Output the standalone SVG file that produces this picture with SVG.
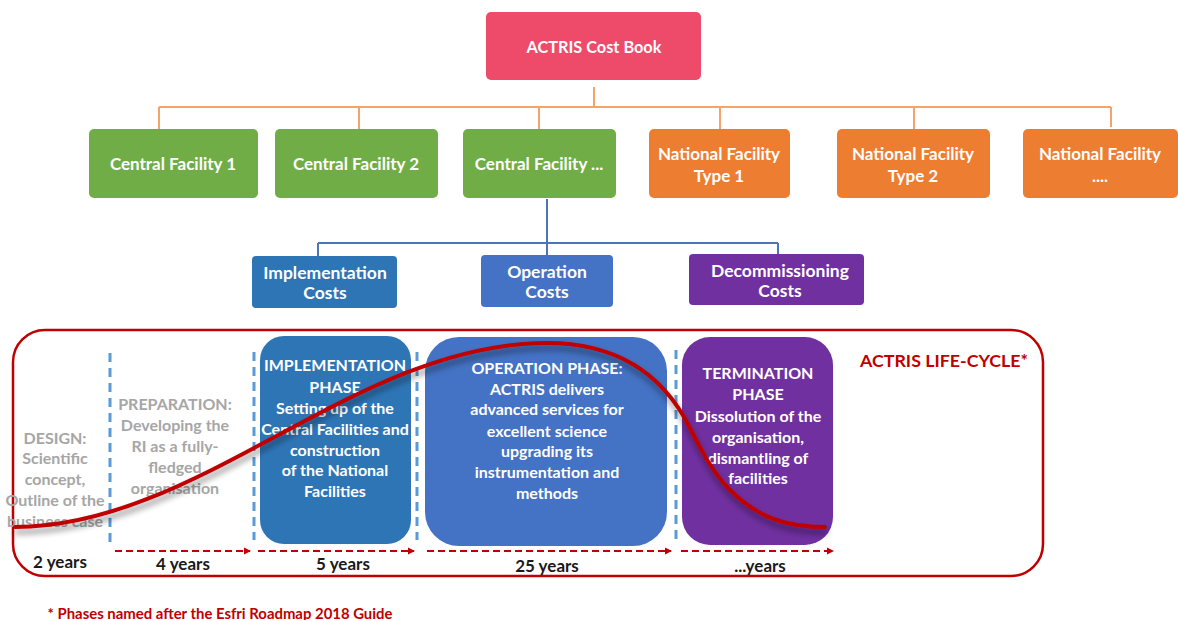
<svg xmlns="http://www.w3.org/2000/svg" width="1178" height="620" viewBox="0 0 1178 620">
<style>
text{font-family:Lato,"Open Sans","Liberation Sans",sans-serif;font-weight:bold;text-anchor:middle;dominant-baseline:central}
.w{fill:#fff;font-size:17px}
.c{fill:#fff;font-size:17.5px}
.p{fill:#fff;font-size:16px}
.g{fill:#a6a6a6;font-size:16px}
.y{fill:#1a1a1a;font-size:17px}
.orange{stroke:#f4a36b;stroke-width:2;fill:none}
.blue{stroke:#4f74b3;stroke-width:2;fill:none}
.vd{stroke:#5b9bd5;stroke-width:3;stroke-dasharray:9 6;fill:none}
.rd{stroke:#c00000;stroke-width:2.2;stroke-dasharray:7 4;fill:none;marker-end:url(#ah)}
</style>
<defs>
<marker id="ah" markerWidth="8" markerHeight="8" refX="6" refY="4" orient="auto" markerUnits="userSpaceOnUse">
<path d="M0,0.5 L7,4 L0,7.5 Z" fill="#c00000"/>
</marker>
<filter id="sh" x="-10%" y="-20%" width="120%" height="160%">
<feGaussianBlur in="SourceAlpha" stdDeviation="3"/>
<feOffset dx="1" dy="5" result="b"/>
<feComponentTransfer><feFuncA type="linear" slope="0.45"/></feComponentTransfer>
<feMerge><feMergeNode/><feMergeNode in="SourceGraphic"/></feMerge>
</filter>
</defs>
<rect width="1178" height="620" fill="#fff"/>
<g id="connectors">
<path class="orange" d="M594,87 V107 M159,107 H1111 M159,107 V129 M359,107 V129 M539,107 V129 M720,107 V129 M914,107 V129 M1111,107 V127"/>
<path class="blue" d="M547,199 V255 M318,243 H778 M318,243 V256 M778,243 V254"/>
</g>
<g id="costbook"><rect x="486" y="12" width="215" height="68" rx="5" fill="#ee4b6a"/><text class="w" x="594" y="46" style="font-size:16.3px">ACTRIS Cost Book</text></g>
<g id="cf1"><rect x="89" y="129" width="169" height="69" rx="5" fill="#70ad47"/><text class="w" x="173" y="163">Central Facility 1</text></g>
<g id="cf2"><rect x="275" y="129" width="163" height="69" rx="5" fill="#70ad47"/><text class="w" x="356" y="163">Central Facility 2</text></g>
<g id="cf3"><rect x="463" y="129" width="153" height="69" rx="5" fill="#70ad47"/><text class="w" x="539" y="163">Central Facility ...</text></g>
<g id="nf1"><rect x="649" y="129" width="141" height="69" rx="5" fill="#ed7d31"/><text class="w" x="719" y="153">National Facility</text><text class="w" x="719" y="175">Type 1</text></g>
<g id="nf2"><rect x="837" y="129" width="153" height="69" rx="5" fill="#ed7d31"/><text class="w" x="913" y="153">National Facility</text><text class="w" x="913" y="175">Type 2</text></g>
<g id="nf3"><rect x="1023" y="129" width="155" height="69" rx="5" fill="#ed7d31"/><text class="w" x="1100" y="153">National Facility</text><text class="w" x="1100" y="175">....</text></g>
<g id="impcost"><rect x="252" y="256" width="145" height="52" rx="4" fill="#2e75b6"/><text class="c" x="325" y="272">Implementation</text><text class="c" x="325" y="292">Costs</text></g>
<g id="opcost"><rect x="481" y="255" width="132" height="52" rx="4" fill="#4472c4"/><text class="c" x="547" y="271">Operation</text><text class="c" x="547" y="291">Costs</text></g>
<g id="deccost"><rect x="689" y="254" width="175" height="51" rx="4" fill="#7030a0"/><text class="c" x="780" y="270">Decommissioning</text><text class="c" x="780" y="290">Costs</text></g>
<g id="lifecycle">
<rect x="13" y="330" width="1030" height="246" rx="32" fill="none" stroke="#c00000" stroke-width="2.5"/>
<text x="944" y="360" style="fill:#c00000;font-size:17.8px">ACTRIS LIFE-CYCLE*</text>
</g>
<g id="phase-lines">
<path class="vd" d="M110,353 V543 M254,352 V540 M417,352 V540 M676,350 V540"/>
</g>
<g id="design"><text class="g" x="55" y="437">DESIGN:</text><text class="g" x="55" y="457">Scientific</text><text class="g" x="55" y="478">concept,</text><text class="g" x="55" y="499">Outline of the</text><text class="g" x="55" y="520">business case</text></g>
<g id="preparation"><text class="g" x="175" y="403">PREPARATION:</text><text class="g" x="175" y="424">Developing the</text><text class="g" x="175" y="445">RI as a fully-</text><text class="g" x="175" y="466">fledged</text><text class="g" x="175" y="487">organisation</text></g>
<g id="implementation"><rect x="260" y="336" width="151" height="208" rx="24" fill="#2e75b6"/>
<text class="p" x="335" y="364">IMPLEMENTATION</text><text class="p" x="335" y="386">PHASE</text><text class="p" x="335" y="407">Setting up of the</text><text class="p" x="335" y="428">Central Facilities and</text><text class="p" x="335" y="449">construction</text><text class="p" x="335" y="469">of the National</text><text class="p" x="335" y="490">Facilities</text></g>
<g id="operation"><rect x="425" y="337" width="242" height="209" rx="34" fill="#4472c4"/>
<text class="p" x="547" y="367">OPERATION PHASE:</text><text class="p" x="547" y="388">ACTRIS delivers</text><text class="p" x="547" y="408">advanced services for</text><text class="p" x="547" y="430">excellent science</text><text class="p" x="547" y="450">upgrading its</text><text class="p" x="547" y="471">instrumentation and</text><text class="p" x="547" y="492">methods</text></g>
<g id="termination"><rect x="682" y="337" width="151" height="208" rx="28" fill="#7030a0"/>
<text class="p" x="758" y="372">TERMINATION</text><text class="p" x="758" y="393">PHASE</text><text class="p" x="758" y="415">Dissolution of the</text><text class="p" x="758" y="436">organisation,</text><text class="p" x="758" y="457">dismantling of</text><text class="p" x="758" y="477">facilities</text></g>
<g id="curve"><path d="M15,527 C200,527 355,343 547,343 C640,343 675,398 690,428 C700,448 712,472 730,490 C760,520 790,527 825,527" fill="none" stroke="#c00000" stroke-width="4" stroke-linecap="round" filter="url(#sh)"/></g>
<g id="durations">
<path class="rd" d="M115,551 H250"/>
<path class="rd" d="M258,551 H414"/>
<path class="rd" d="M427,551 H671"/>
<path class="rd" d="M681,551 H833"/>
<text class="y" x="60" y="561">2 years</text>
<text class="y" x="183" y="563">4 years</text>
<text class="y" x="343" y="563">5 years</text>
<text class="y" x="547" y="565">25 years</text>
<text class="y" x="760" y="565">...years</text>
</g>
<text x="220" y="613" style="fill:#c00000;font-size:14.9px">* Phases named after the Esfri Roadmap 2018 Guide</text>
</svg>
